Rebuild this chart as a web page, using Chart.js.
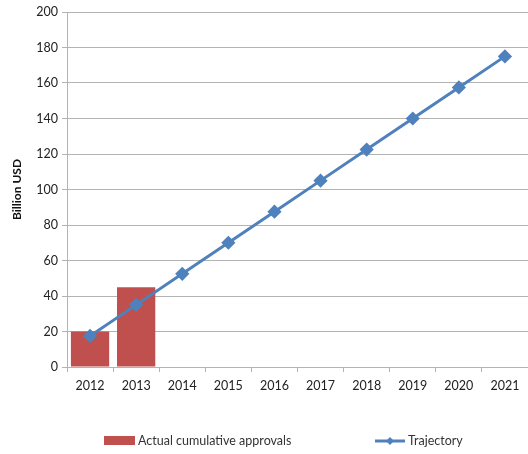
<!DOCTYPE html>
<html>
<head>
<meta charset="utf-8">
<script src="https://cdn.jsdelivr.net/npm/chart.js@4"></script>
<style>
  html, body { margin: 0; padding: 0; background: #fff; overflow: hidden; }
  #wrap { width: 528px; height: 454px; position: relative; }
  #chart { display: block; }
</style>
</head>
<body>
<div id="wrap"><canvas id="chart"></canvas></div>
<script>
const years = ['2012', '2013', '2014', '2015', '2016', '2017', '2018', '2019', '2020', '2021'];
const actualApprovals = [20, 45, null, null, null, null, null, null, null, null];
const trajectory = [17.5, 35, 52.5, 70, 87.5, 105, 122.5, 140, 157.5, 175];
const yTicks = [0, 20, 40, 60, 80, 100, 120, 140, 160, 180, 200];

const RED = '#c0504d';
const BLUE = '#4f81bd';
const GRID = '#b3b3b3';
const FONT = 'Lato, "Open Sans", sans-serif';

// legend drawn by hand so the two items sit far apart like the original
const bottomLegend = {
    id: 'bottomLegend',
    afterDraw(chart) {
        const ctx = chart.ctx;
        const y = 441;
        ctx.save();
        ctx.font = '12.5px ' + FONT;
        ctx.textBaseline = 'middle';

        ctx.fillStyle = RED;
        ctx.fillRect(104, 436, 31, 9);
        ctx.fillStyle = '#333';
        ctx.fillText(chart.data.datasets[0].label, 138, y);

        ctx.strokeStyle = BLUE;
        ctx.lineWidth = 3;
        ctx.beginPath();
        ctx.moveTo(375, y);
        ctx.lineTo(405, y);
        ctx.stroke();
        ctx.fillStyle = BLUE;
        ctx.beginPath();
        ctx.moveTo(390, y - 4);
        ctx.lineTo(394, y);
        ctx.lineTo(390, y + 4);
        ctx.lineTo(386, y);
        ctx.closePath();
        ctx.fill();
        ctx.fillStyle = '#333';
        ctx.fillText(chart.data.datasets[1].label, 408, y);
        ctx.restore();
    }
};

document.addEventListener('DOMContentLoaded', () => {
    const ctx = document.getElementById('chart').getContext('2d');
    new Chart(ctx, {
        data: {
            labels: years,
            datasets: [{
                type: 'bar',
                label: 'Actual cumulative approvals',
                data: actualApprovals,
                backgroundColor: RED,
                barPercentage: 0.83,
                categoryPercentage: 1,
                order: 2
            }, {
                type: 'line',
                label: 'Trajectory',
                data: trajectory,
                borderColor: BLUE,
                backgroundColor: BLUE,
                borderWidth: 3,
                pointStyle: 'rectRot',
                pointRadius: 5,
                tension: 0,
                clip: false,
                order: 1
            }]
        },
        options: {
            responsive: true,
            maintainAspectRatio: false,
            animation: false,
            layout: { autoPadding: false, padding: { top: 12, right: 0, bottom: 50, left: 0 } },
            plugins: {
                legend: { display: false },
                tooltip: { enabled: false }
            },
            scales: {
                x: {
                    offset: true,
                    grid: {
                        offset: true,
                        drawOnChartArea: false,
                        color: GRID,
                        tickLength: 5
                    },
                    border: { color: GRID },
                    ticks: {
                        color: '#222',
                        font: { family: FONT, size: 12.5 },
                        padding: 6,
                        maxRotation: 0
                    },
                    afterFit: (scale) => {
                        scale.height = 37;
                        scale.paddingLeft = 0;
                        scale.paddingRight = 0;
                    }
                },
                y: {
                    min: 0,
                    max: 200,
                    afterBuildTicks: (scale) => { scale.ticks = yTicks.map(v => ({ value: v })); },
                    grid: { color: GRID, tickLength: 5 },
                    border: { color: GRID },
                    ticks: {
                        color: '#222',
                        font: { family: FONT, size: 12.5 },
                        padding: 4
                    },
                    title: {
                        display: true,
                        text: 'Billion USD',
                        color: '#111',
                        font: { family: FONT, size: 12, weight: 'bold' },
                        padding: { top: 10, bottom: 2 }
                    },
                    afterFit: (scale) => { scale.width = 67; }
                }
            }
        },
        plugins: [bottomLegend]
    });
});
</script>
</body>
</html>
